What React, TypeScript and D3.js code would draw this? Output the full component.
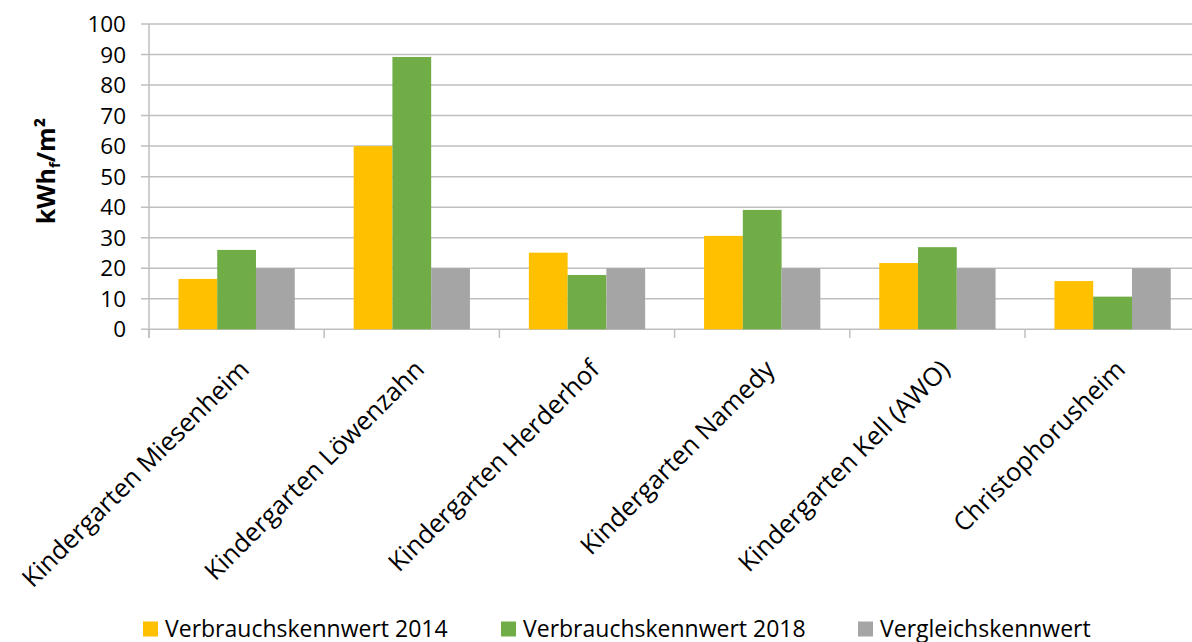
import React from "react";
import * as d3 from "d3";

const categories = [
  "Kindergarten Miesenheim",
  "Kindergarten Löwenzahn",
  "Kindergarten Herderhof",
  "Kindergarten Namedy",
  "Kindergarten Kell (AWO)",
  "Christophorusheim",
];
const seriesNames = ["Verbrauchskennwert 2014", "Verbrauchskennwert 2018", "Vergleichskennwert"];
const values2014 = [16.5, 60, 25.1, 30.6, 21.7, 15.8];
const values2018 = [26, 89.2, 17.8, 39.1, 26.9, 10.7];
const valuesRef = [20, 20, 20, 20, 20, 20];
const yTicks = [0, 10, 20, 30, 40, 50, 60, 70, 80, 90, 100];
const colors = ["#FFC000", "#70AD47", "#A5A5A5"];

const W = 1192;
const H = 642;
const FONT = "'Open Sans', sans-serif";

export default function App() {
  const seriesValues = [values2014, values2018, valuesRef];
  const x = d3.scaleBand<string>().domain(categories).range([149, 149 + 175.2 * 6]).padding(0);
  const xi = d3
    .scaleBand<string>()
    .domain(seriesNames)
    .range([0, x.bandwidth()])
    .paddingInner(0)
    .paddingOuter(0.76);
  const y = d3.scaleLinear().domain([0, 100]).range([329.3, 24]);
  const boundaries = categories.map((c) => x(c)!).concat([x.range()[1]]);
  const legendX = [143, 501, 858];

  return (
    <svg width={W} height={H} style={{ position: "absolute", left: 0, top: 0, background: "#fff" }}>
      <rect x={0} y={0} width={W} height={H} fill="#fff" />
      {yTicks.map((t) => (
        <line key={t} x1={141} x2={W} y1={y(t)} y2={y(t)} stroke="#BFBFBF" strokeWidth={1.5} />
      ))}
      <line x1={149} x2={149} y1={y(100)} y2={338} stroke="#BFBFBF" strokeWidth={1.5} />
      {boundaries.map((b, i) => (
        <line key={i} x1={b} x2={b} y1={y(0)} y2={338} stroke="#BFBFBF" strokeWidth={1.5} />
      ))}
      {seriesNames.map((s, si) => (
        <g key={s}>
          {categories.map((c, ci) => (
            <rect
              key={c}
              x={x(c)! + xi(s)!}
              y={y(seriesValues[si][ci])}
              width={xi.bandwidth()}
              height={y(0) - y(seriesValues[si][ci])}
              fill={colors[si]}
            />
          ))}
        </g>
      ))}
      {yTicks.map((t) => (
        <text
          key={t}
          x={126}
          y={y(t)}
          dy="0.36em"
          textAnchor="end"
          fontFamily={FONT}
          fontSize={22.5}
          fill="#000"
        >
          {t}
        </text>
      ))}
      <text
        transform={`translate(55, 171) rotate(-90)`}
        textAnchor="middle"
        fontFamily={FONT}
        fontSize={25}
        fontWeight="bold"
        fill="#000"
      >
        kWh
        <tspan fontSize={15} dy="5">f</tspan>
        <tspan dy="-5">/m²</tspan>
      </text>
      {categories.map((c) => (
        <text
          key={c}
          transform={`translate(${x(c)! + x.bandwidth() / 2 + 14}, 371) rotate(-45)`}
          textAnchor="end"
          fontFamily={FONT}
          fontSize={25.5}
          fill="#000"
        >
          {c}
        </text>
      ))}
      {seriesNames.map((s, i) => (
        <g key={s} transform={`translate(${legendX[i]}, 621.5)`}>
          <rect x={0} y={0} width={15} height={15} fill={colors[i]} />
          <text x={22} y={15} fontFamily={FONT} fontSize={23} fill="#000">
            {s}
          </text>
        </g>
      ))}
    </svg>
  );
}
